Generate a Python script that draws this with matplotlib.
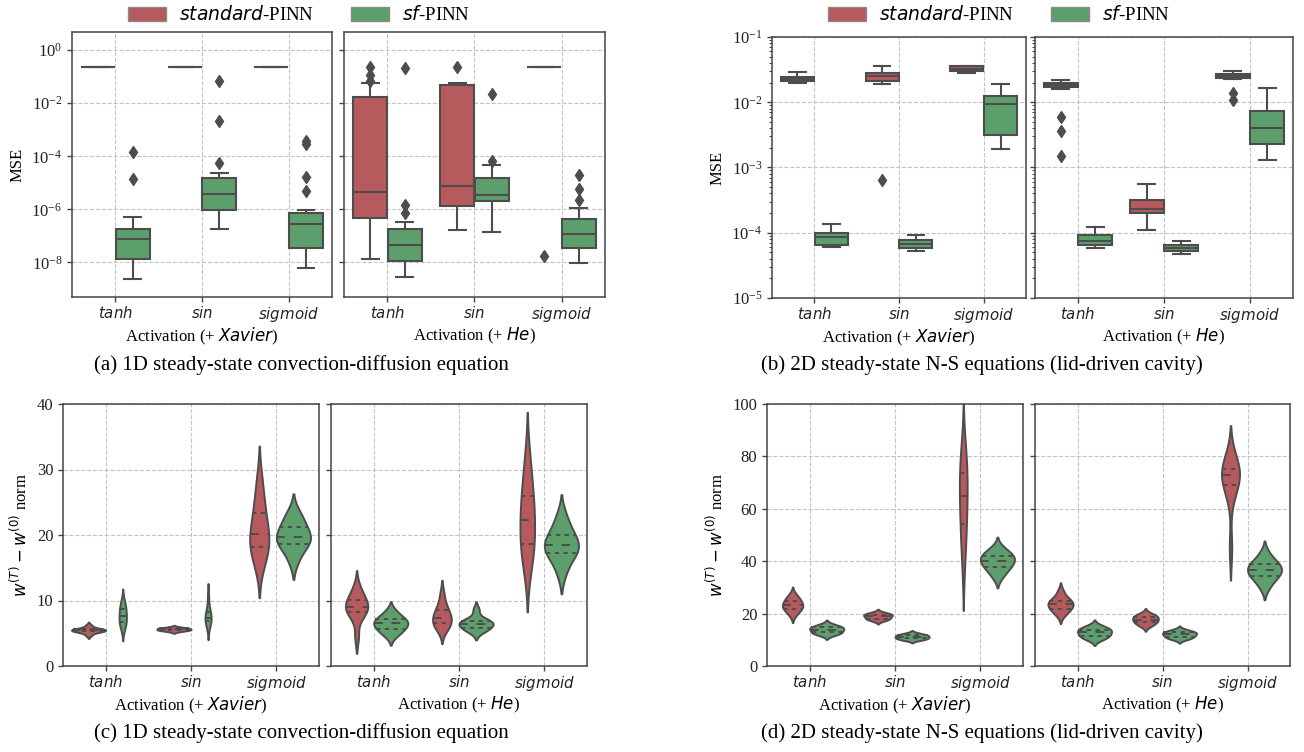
import numpy as np
import matplotlib
matplotlib.use("Agg")
import matplotlib.pyplot as plt
from matplotlib import mlab
from matplotlib.patches import Patch
from matplotlib.ticker import NullLocator

W, H = 1304, 752

ACTIVATIONS = ["tanh", "sin", "sigmoid"]
LEGEND_LABELS = [r"$\it{standard}$-PINN", r"$\it{sf}$-PINN"]
CAPTIONS = [
    "(a) 1D steady-state convection-diffusion equation",
    "(b) 2D steady-state N-S equations (lid-driven cavity)",
    "(c) 1D steady-state convection-diffusion equation",
    "(d) 2D steady-state N-S equations (lid-driven cavity)",
]

# ---- (a) MSE, 1D convection-diffusion; box = (whislo, q1, med, q3, whishi) ----
A_XAVIER_STD_BOX = [[0.24] * 5, [0.24] * 5, [0.24] * 5]
A_XAVIER_STD_FLIERS = [[], [], []]
A_XAVIER_SF_BOX = [[2.4e-9, 1.35e-8, 7.6e-8, 1.9e-7, 5.2e-7],
                   [1.9e-7, 9.1e-7, 3.7e-6, 1.5e-5, 2.4e-5],
                   [6.0e-9, 3.5e-8, 2.9e-7, 7.6e-7, 9.1e-7]]
A_XAVIER_SF_FLIERS = [[1.4e-5, 1.5e-4],
                      [5.8e-5, 2.2e-3, 6.6e-2],
                      [5.1e-6, 1.7e-5, 3.0e-4, 3.9e-4]]
A_HE_STD_BOX = [[1.35e-8, 4.7e-7, 4.4e-6, 1.66e-2, 5.6e-2],
                [1.6e-7, 1.3e-6, 7.8e-6, 5.0e-2, 5.6e-2],
                [0.234] * 5]
A_HE_STD_FLIERS = [[6.6e-2, 0.115, 0.234], [0.234], [1.7e-8]]
A_HE_SF_BOX = [[2.8e-9, 1.17e-8, 4.6e-8, 1.8e-7, 3.4e-7],
               [1.4e-7, 2.0e-6, 3.5e-6, 1.5e-5, 4.5e-5],
               [9.5e-9, 3.5e-8, 1.17e-7, 4.3e-7, 1.17e-6]]
A_HE_SF_FLIERS = [[7.6e-7, 1.5e-6, 0.22], [6.9e-5, 2.3e-2], [2.3e-6, 5.8e-6, 2.0e-5]]

# ---- (b) MSE, 2D lid-driven cavity ----
B_XAVIER_STD_BOX = [[1.96e-2, 2.08e-2, 2.26e-2, 2.43e-2, 2.9e-2],
                    [1.9e-2, 2.13e-2, 2.49e-2, 2.8e-2, 3.54e-2],
                    [2.8e-2, 3.04e-2, 3.26e-2, 3.54e-2, 3.63e-2]]
B_XAVIER_STD_FLIERS = [[], [6.5e-4], []]
B_XAVIER_SF_BOX = [[6.0e-5, 6.5e-5, 8.7e-5, 9.8e-5, 1.38e-4],
                   [5.2e-5, 5.75e-5, 6.8e-5, 7.8e-5, 9.1e-5],
                   [1.9e-3, 3.2e-3, 9.3e-3, 1.23e-2, 1.9e-2]]
B_XAVIER_SF_FLIERS = [[], [], []]
B_HE_STD_BOX = [[1.58e-2, 1.7e-2, 1.86e-2, 2.0e-2, 2.19e-2],
                [1.1e-4, 2.0e-4, 2.34e-4, 3.16e-4, 5.5e-4],
                [2.3e-2, 2.35e-2, 2.57e-2, 2.75e-2, 3.0e-2]]
B_HE_STD_FLIERS = [[6.0e-3, 3.6e-3, 1.5e-3], [], [1.38e-2, 1.1e-2]]
B_HE_SF_BOX = [[5.9e-5, 6.6e-5, 7.6e-5, 9.3e-5, 1.23e-4],
               [4.7e-5, 5.25e-5, 5.9e-5, 6.5e-5, 7.6e-5],
               [1.3e-3, 2.3e-3, 4.1e-3, 7.4e-3, 1.66e-2]]
B_HE_SF_FLIERS = [[], [], []]

# ---- (c) weight change norm, 1D convection-diffusion (runs per activation) ----
C_XAVIER_STD = [[4.7, 5.15, 5.3, 5.36, 5.42, 5.48, 5.55, 5.62, 5.75, 6.2],
                [5.25, 5.4, 5.45, 5.5, 5.57, 5.63, 5.7, 5.76, 5.82, 5.95],
                [15.5, 17.2, 18.0, 18.8, 19.8, 20.6, 22.0, 23.8, 25.5, 28.5]]
C_XAVIER_SF = [[5.6, 6.3, 6.6, 7.0, 7.5, 7.8, 8.4, 8.9, 9.2, 10.0],
               [5.8, 6.5, 6.8, 7.1, 7.3, 7.5, 7.9, 8.3, 9.0, 10.8],
               [16.0, 17.8, 18.5, 19.1, 19.5, 19.9, 20.6, 21.5, 22.3, 23.5]]
C_HE_STD = [[4.5, 7.6, 8.1, 8.6, 8.9, 9.1, 9.7, 10.2, 10.8, 12.0],
            [5.5, 6.1, 6.4, 6.8, 7.2, 7.5, 8.1, 8.6, 9.3, 11.0],
            [15.0, 17.2, 18.2, 20.0, 21.5, 23.0, 24.8, 26.3, 28.5, 32.0]]
C_HE_SF = [[4.6, 5.3, 5.6, 6.0, 6.4, 6.6, 6.9, 7.2, 7.6, 8.4],
           [5.2, 5.6, 5.75, 6.1, 6.4, 6.55, 6.7, 6.85, 7.2, 8.6],
           [14.2, 16.3, 17.0, 17.8, 18.2, 18.6, 19.4, 20.1, 21.2, 23.0]]

# ---- (d) weight change norm, 2D lid-driven cavity ----
D_XAVIER_STD = [[19.5, 21.0, 21.7, 22.4, 23.0, 23.4, 24.3, 25.1, 25.8, 27.2],
                [17.3, 17.8, 18.0, 18.4, 18.8, 19.2, 19.5, 19.7, 19.9, 20.4],
                [39.0, 48.0, 53.0, 58.0, 63.0, 66.5, 71.0, 74.5, 79.0, 83.0]]
D_XAVIER_SF = [[11.8, 12.4, 12.7, 13.1, 13.7, 14.1, 14.5, 14.8, 15.1, 15.9],
               [9.9, 10.2, 10.4, 10.8, 11.0, 11.2, 11.6, 11.8, 12.0, 12.5],
               [34.0, 36.5, 37.5, 38.8, 39.8, 40.6, 41.5, 42.3, 43.2, 45.0]]
D_HE_STD = [[19.5, 21.0, 21.7, 22.6, 23.3, 23.7, 24.6, 25.0, 26.0, 28.5],
            [15.2, 16.0, 16.5, 17.1, 17.5, 17.9, 18.6, 18.9, 19.3, 20.0],
            [45.0, 66.0, 68.5, 70.5, 72.5, 73.5, 74.5, 75.3, 77.0, 79.5]]
D_HE_SF = [[10.0, 10.9, 11.3, 11.9, 12.6, 13.0, 13.7, 14.0, 14.5, 15.4],
           [10.2, 10.7, 11.0, 11.5, 11.9, 12.3, 12.6, 12.9, 13.2, 13.8],
           [30.0, 33.0, 34.0, 35.2, 36.3, 36.9, 38.3, 39.0, 40.0, 43.0]]

RED = "#b75a5e"
GREEN = "#5c9f6c"
LINE = "#4d4d4d"

plt.rcParams["font.family"] = "serif"
plt.rcParams["font.serif"] = ["Liberation Serif", "DejaVu Serif"]
plt.rcParams["mathtext.fontset"] = "dejavusans"


def px_rect(x0, x1, y0, y1):
    return [x0 / W, 1 - y1 / H, (x1 - x0) / W, (y1 - y0) / H]


def style_axes(ax, init):
    ax.set_xlim(-0.5, 2.5)
    ax.set_xticks(range(3))
    ax.set_xticklabels([rf"$\it{{{a}}}$" for a in ACTIVATIONS])
    ax.set_xlabel(rf"Activation (+ $\it{{{init}}}$)", fontsize=12, labelpad=1)
    ax.grid(True, which="major", ls="--", color="#c4c4c4", lw=0.8)
    ax.set_axisbelow(True)
    for s in ax.spines.values():
        s.set_color("#444444")
        s.set_linewidth(1.1)
    ax.tick_params(which="both", colors="#444444", labelcolor="#222222", labelsize=12)
    ax.tick_params(axis="x", labelsize=10.8, pad=2.5)
    ax.tick_params(which="major", length=3.5, width=1)
    ax.tick_params(which="minor", length=2, width=0.7)


def draw_boxes(ax, std_box, std_fl, sf_box, sf_fl):
    for offset, boxes, fliers, color in ((-0.2, std_box, std_fl, RED),
                                         (0.2, sf_box, sf_fl, GREEN)):
        stats = [dict(whislo=b[0], q1=b[1], med=b[2], q3=b[3], whishi=b[4], fliers=f)
                 for b, f in zip(boxes, fliers)]
        ax.bxp(stats, positions=[i + offset for i in range(3)], widths=0.39,
               patch_artist=True, manage_ticks=False,
               boxprops=dict(facecolor=color, edgecolor=LINE, linewidth=1.5),
               medianprops=dict(color=LINE, linewidth=1.5),
               whiskerprops=dict(color=LINE, linewidth=1.5),
               capprops=dict(color=LINE, linewidth=1.5),
               flierprops=dict(marker="d", markerfacecolor=LINE, markeredgecolor=LINE,
                               markersize=6.5))


def draw_violins(ax, std_runs, sf_runs):
    for i in range(3):
        group = []
        for offset, runs, color in ((-0.2, std_runs, RED), (0.2, sf_runs, GREEN)):
            data = np.asarray(runs[i], float)
            kde = mlab.GaussianKDE(data, "scott")
            bw = float(np.sqrt(kde.covariance).squeeze())
            coords = np.linspace(data.min() - 2 * bw, data.max() + 2 * bw, 200)
            vals = kde.evaluate(coords)
            group.append((i + offset, data, coords, vals, color))
        # area scaling within each activation: widest density gets full width
        peak = max(g[3].max() for g in group)
        for pos, data, coords, vals, color in group:
            width = 0.4 * vals.max() / peak
            stats = dict(coords=coords, vals=vals, mean=data.mean(), median=np.median(data),
                         min=data.min(), max=data.max())
            parts = ax.violin([stats], positions=[pos], widths=[width],
                              showmeans=False, showextrema=False, showmedians=False)
            body = parts["bodies"][0]
            body.set_facecolor(color)
            body.set_edgecolor(LINE)
            body.set_linewidth(1.4)
            body.set_alpha(1)
            for q, dash in zip(np.percentile(data, [25, 50, 75]),
                               [(2.25, 2.25), (4.5, 4.5), (2.25, 2.25)]):
                hw = 0.5 * width * np.interp(q, coords, vals) / vals.max()
                ax.plot([pos - hw, pos + hw], [q, q], color=LINE, lw=1.4, dashes=dash)


fig = plt.figure(figsize=(W / 100, H / 100), dpi=100)

panels = [
    (px_rect(72, 332, 32, 297), px_rect(344, 605, 32, 297), "a",
     (A_XAVIER_STD_BOX, A_XAVIER_STD_FLIERS, A_XAVIER_SF_BOX, A_XAVIER_SF_FLIERS),
     (A_HE_STD_BOX, A_HE_STD_FLIERS, A_HE_SF_BOX, A_HE_SF_FLIERS)),
    (px_rect(772, 1026, 37, 298), px_rect(1035, 1293, 37, 298), "b",
     (B_XAVIER_STD_BOX, B_XAVIER_STD_FLIERS, B_XAVIER_SF_BOX, B_XAVIER_SF_FLIERS),
     (B_HE_STD_BOX, B_HE_STD_FLIERS, B_HE_SF_BOX, B_HE_SF_FLIERS)),
    (px_rect(63, 319, 404, 666), px_rect(331, 587, 404, 666), "c",
     (C_XAVIER_STD, C_XAVIER_SF), (C_HE_STD, C_HE_SF)),
    (px_rect(767, 1023, 404, 666), px_rect(1035, 1290, 404, 666), "d",
     (D_XAVIER_STD, D_XAVIER_SF), (D_HE_STD, D_HE_SF)),
]

for rect_l, rect_r, kind, xavier, he in panels:
    ax_l = fig.add_axes(rect_l)
    ax_r = fig.add_axes(rect_r, sharey=ax_l)
    for ax, data, init in ((ax_l, xavier, "Xavier"), (ax_r, he, "He")):
        if kind in ("a", "b"):
            ax.set_yscale("log")
            draw_boxes(ax, *data)
        else:
            draw_violins(ax, *data)
        style_axes(ax, init)
    ax_r.tick_params(labelleft=False)
    if kind == "a":
        ax_l.set_yticks([1e0, 1e-2, 1e-4, 1e-6, 1e-8])
        ax_l.yaxis.set_minor_locator(NullLocator())
        ax_l.set_ylim(5e-10, 4.8)
        ax_l.set_ylabel("MSE", fontsize=12)
    elif kind == "b":
        ax_l.set_yticks([1e-5, 1e-4, 1e-3, 1e-2, 1e-1])
        ax_l.set_ylim(1e-5, 1e-1)
        ax_l.set_ylabel("MSE", fontsize=12)
    elif kind == "c":
        ax_l.set_yticks(range(0, 41, 10))
        ax_l.set_ylim(0, 40)
        ax_l.set_ylabel(r"$w^{(T)} - w^{(0)}$ norm", fontsize=12)
    else:
        ax_l.set_yticks(range(0, 101, 20))
        ax_l.set_ylim(0, 100)
        ax_l.set_ylabel(r"$w^{(T)} - w^{(0)}$ norm", fontsize=12)

handles = [Patch(facecolor=RED, edgecolor="#8a8a8a", lw=1),
           Patch(facecolor=GREEN, edgecolor="#8a8a8a", lw=1)]
for cx in (299, 999):
    fig.legend(handles, LEGEND_LABELS, loc="center", bbox_to_anchor=(cx / W, 1 - 15 / H),
               ncol=2, frameon=False, fontsize=13.5, handlelength=2.0, handleheight=0.75,
               handletextpad=0.7, columnspacing=2.0, borderaxespad=0)

for (cx, cy), text in zip([(301, 365), (982, 365), (301, 733), (982, 733)], CAPTIONS):
    fig.text(cx / W, 1 - cy / H, text, ha="center", va="center", fontsize=15)

fig.savefig("out.png", dpi=100)
